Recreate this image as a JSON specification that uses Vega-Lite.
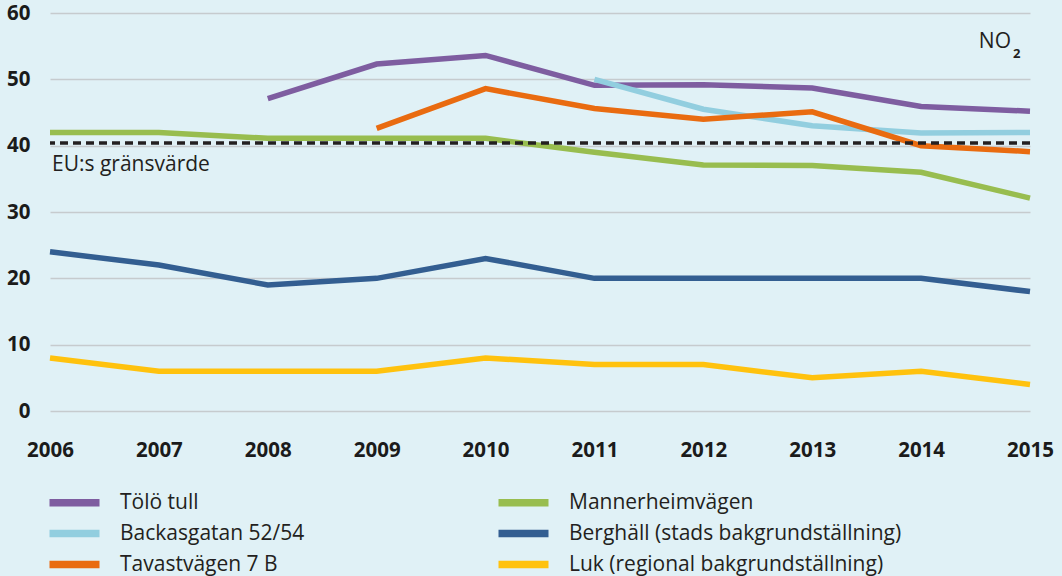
{
  "$schema": "https://vega.github.io/schema/vega-lite/v6.json",
  "autosize": "none",
  "width": 980,
  "height": 398,
  "padding": {"left": 50, "top": 13, "right": 32, "bottom": 165},
  "background": "#E0F1F6",
  "config": {
    "view": {"stroke": null},
    "axis": {"labelFont": "Open Sans", "labelFontWeight": "bold", "labelFontSize": 20.5, "labelColor": "#1b1b1b", "ticks": false, "domain": false, "title": null},
    "text": {"font": "Open Sans", "color": "#231F20"}
  },
  "datasets": {
    "no2": [
      {"year": 2008, "series": "Tölö tull", "value": 47.1},
      {"year": 2009, "series": "Tölö tull", "value": 52.3},
      {"year": 2010, "series": "Tölö tull", "value": 53.6},
      {"year": 2011, "series": "Tölö tull", "value": 49.1},
      {"year": 2012, "series": "Tölö tull", "value": 49.2},
      {"year": 2013, "series": "Tölö tull", "value": 48.7},
      {"year": 2014, "series": "Tölö tull", "value": 45.9},
      {"year": 2015, "series": "Tölö tull", "value": 45.2},
      {"year": 2011, "series": "Backasgatan 52/54", "value": 50.0},
      {"year": 2012, "series": "Backasgatan 52/54", "value": 45.5},
      {"year": 2013, "series": "Backasgatan 52/54", "value": 43.0},
      {"year": 2014, "series": "Backasgatan 52/54", "value": 41.9},
      {"year": 2015, "series": "Backasgatan 52/54", "value": 42.0},
      {"year": 2009, "series": "Tavastvägen 7 B", "value": 42.6},
      {"year": 2010, "series": "Tavastvägen 7 B", "value": 48.6},
      {"year": 2011, "series": "Tavastvägen 7 B", "value": 45.6},
      {"year": 2012, "series": "Tavastvägen 7 B", "value": 44.0},
      {"year": 2013, "series": "Tavastvägen 7 B", "value": 45.1},
      {"year": 2014, "series": "Tavastvägen 7 B", "value": 40.0},
      {"year": 2015, "series": "Tavastvägen 7 B", "value": 39.1},
      {"year": 2006, "series": "Mannerheimvägen", "value": 42.0},
      {"year": 2007, "series": "Mannerheimvägen", "value": 42.0},
      {"year": 2008, "series": "Mannerheimvägen", "value": 41.1},
      {"year": 2009, "series": "Mannerheimvägen", "value": 41.1},
      {"year": 2010, "series": "Mannerheimvägen", "value": 41.1},
      {"year": 2011, "series": "Mannerheimvägen", "value": 39.0},
      {"year": 2012, "series": "Mannerheimvägen", "value": 37.1},
      {"year": 2013, "series": "Mannerheimvägen", "value": 37.0},
      {"year": 2014, "series": "Mannerheimvägen", "value": 36.0},
      {"year": 2015, "series": "Mannerheimvägen", "value": 32.1},
      {"year": 2006, "series": "Berghäll (stads bakgrundställning)", "value": 24},
      {"year": 2007, "series": "Berghäll (stads bakgrundställning)", "value": 22},
      {"year": 2008, "series": "Berghäll (stads bakgrundställning)", "value": 19},
      {"year": 2009, "series": "Berghäll (stads bakgrundställning)", "value": 20},
      {"year": 2010, "series": "Berghäll (stads bakgrundställning)", "value": 23},
      {"year": 2011, "series": "Berghäll (stads bakgrundställning)", "value": 20},
      {"year": 2012, "series": "Berghäll (stads bakgrundställning)", "value": 20},
      {"year": 2013, "series": "Berghäll (stads bakgrundställning)", "value": 20},
      {"year": 2014, "series": "Berghäll (stads bakgrundställning)", "value": 20},
      {"year": 2015, "series": "Berghäll (stads bakgrundställning)", "value": 18},
      {"year": 2006, "series": "Luk (regional bakgrundställning)", "value": 8},
      {"year": 2007, "series": "Luk (regional bakgrundställning)", "value": 6},
      {"year": 2008, "series": "Luk (regional bakgrundställning)", "value": 6},
      {"year": 2009, "series": "Luk (regional bakgrundställning)", "value": 6},
      {"year": 2010, "series": "Luk (regional bakgrundställning)", "value": 8},
      {"year": 2011, "series": "Luk (regional bakgrundställning)", "value": 7},
      {"year": 2012, "series": "Luk (regional bakgrundställning)", "value": 7},
      {"year": 2013, "series": "Luk (regional bakgrundställning)", "value": 5},
      {"year": 2014, "series": "Luk (regional bakgrundställning)", "value": 6},
      {"year": 2015, "series": "Luk (regional bakgrundställning)", "value": 4}
    ],
    "limit": [{"value": 40.4, "label": "EU:s gränsvärde"}],
    "pollutant": [{"name": "NO", "sub": "2"}]
  },
  "layer": [
    {
      "data": {"name": "no2"},
      "mark": {"type": "line", "strokeWidth": 5.5},
      "encoding": {
        "x": {"field": "year", "type": "quantitative", "scale": {"domain": [2006, 2015], "nice": false, "zero": false},
              "axis": {"values": [2006, 2007, 2008, 2009, 2010, 2011, 2012, 2013, 2014, 2015], "format": "d", "grid": false, "labelPadding": 29, "labelFlush": false}},
        "y": {"field": "value", "type": "quantitative", "scale": {"domain": [0, 60], "nice": false},
              "axis": {"values": [0, 10, 20, 30, 40, 50, 60], "grid": true, "gridColor": "#C6CBCE", "gridWidth": 1.5, "labelPadding": 20}},
        "color": {
          "field": "series", "type": "nominal",
          "scale": {
            "domain": ["Tölö tull", "Backasgatan 52/54", "Tavastvägen 7 B", "Mannerheimvägen", "Berghäll (stads bakgrundställning)", "Luk (regional bakgrundställning)"],
            "range": ["#7E5DA0", "#92CEDF", "#E96B10", "#98BD4F", "#335E91", "#FFC20E"]
          },
          "legend": {
            "orient": "none", "legendX": 14, "legendY": 479, "columns": 2, "title": null,
            "symbolType": "M-5,0H5", "symbolSize": 100, "symbolStrokeWidth": 7.5,
            "labelFont": "Open Sans", "labelFontSize": 21, "labelColor": "#231F20",
            "labelOffset": 35, "rowPadding": 0, "columnPadding": 178, "labelLimit": 500
          }
        }
      }
    },
    {
      "data": {"name": "limit"},
      "mark": {"type": "rule", "strokeDash": [8, 5], "strokeWidth": 3.5, "color": "#231F20"},
      "encoding": {"y": {"field": "value", "type": "quantitative"}}
    },
    {
      "data": {"name": "limit"},
      "mark": {"type": "text", "align": "left", "baseline": "middle", "fontSize": 21, "dx": 2, "dy": 22},
      "encoding": {"x": {"datum": 2006}, "y": {"field": "value", "type": "quantitative"}, "text": {"field": "label"}}
    },
    {
      "data": {"name": "pollutant"},
      "mark": {"type": "text", "align": "right", "baseline": "middle", "fontSize": 21, "dx": -19, "dy": -4},
      "encoding": {"x": {"datum": 2015}, "y": {"datum": 55}, "text": {"field": "name"}}
    },
    {
      "data": {"name": "pollutant"},
      "mark": {"type": "text", "align": "left", "baseline": "middle", "fontSize": 13, "dx": -17, "dy": 8, "fontWeight": "bold"},
      "encoding": {"x": {"datum": 2015}, "y": {"datum": 55}, "text": {"field": "sub"}}
    }
  ]
}
